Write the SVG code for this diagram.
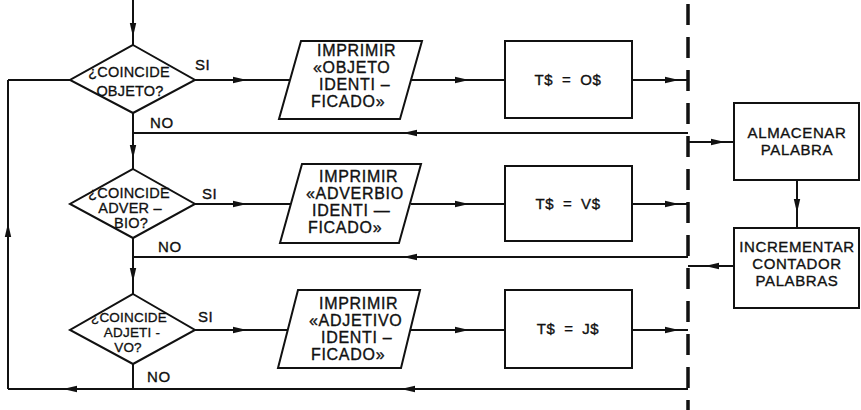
<svg xmlns="http://www.w3.org/2000/svg" width="861" height="410" viewBox="0 0 861 410">
<defs>
<style>
.ln{fill:none;stroke:#111;stroke-width:2}
.sh{fill:#fff;stroke:#111;stroke-width:2}
.t{font-family:"Liberation Sans",Arial,sans-serif;font-size:15px;fill:#111;stroke:#111;stroke-width:0.35;letter-spacing:0.6px}
.p{font-size:16px;letter-spacing:0.7px}
.d{font-family:"Liberation Sans",Arial,sans-serif;font-size:14.5px;fill:#111;stroke:#111;stroke-width:0.3;letter-spacing:0.2px}
.s{font-size:13.5px}
.m{text-anchor:middle}
</style>
<marker id="a" viewBox="0 0 14 8" refX="7" refY="4" markerWidth="14" markerHeight="8" markerUnits="userSpaceOnUse" orient="auto">
<path d="M0,0.8 L14,4 L0,7.2 Z" fill="#111"/>
</marker>
</defs>
<rect width="861" height="410" fill="#fff"/>
<g id="connectors">
<line x1="688" y1="0" x2="688" y2="410" stroke="#111" stroke-width="3.5" stroke-dasharray="21 12" stroke-dashoffset="-4"/>
<path class="ln" d="M133,0 L133,30 L133,45" marker-mid="url(#a)"/>
<path class="ln" d="M195,80 L240,80 L291,80" marker-mid="url(#a)"/>
<path class="ln" d="M411,80 L462,80 L505,80" marker-mid="url(#a)"/>
<path class="ln" d="M632,80 L672,80 L688,80" marker-mid="url(#a)"/>
<path class="ln" d="M688,133 L410,133 L133,133" marker-mid="url(#a)"/>
<path class="ln" d="M133,113 L133,152 L133,169" marker-mid="url(#a)"/>
<path class="ln" d="M8,389 L8,230 L8,80" marker-mid="url(#a)"/>
<path class="ln" d="M8,80 L70,80"/>
<path class="ln" d="M195,204 L240,204 L291,204" marker-mid="url(#a)"/>
<path class="ln" d="M411,204 L462,204 L505,204" marker-mid="url(#a)"/>
<path class="ln" d="M632,204 L672,204 L688,204" marker-mid="url(#a)"/>
<path class="ln" d="M688,257 L410,257 L133,257" marker-mid="url(#a)"/>
<path class="ln" d="M133,238 L133,275 L133,294" marker-mid="url(#a)"/>
<path class="ln" d="M195,330 L240,330 L288,330" marker-mid="url(#a)"/>
<path class="ln" d="M410,330 L462,330 L505,330" marker-mid="url(#a)"/>
<path class="ln" d="M632,330 L672,330 L688,330" marker-mid="url(#a)"/>
<path class="ln" d="M688,389 L408,389 L70,389 L8,389" marker-mid="url(#a)"/>
<path class="ln" d="M133,364 L133,389"/>
<path class="ln" d="M688,142 L718,142 L734,142" marker-mid="url(#a)"/>
<path class="ln" d="M734,266 L712,266 L688,266" marker-mid="url(#a)"/>
<path class="ln" d="M797,180 L797,206 L797,228" marker-mid="url(#a)"/>
<text class="t" x="195" y="70">SI</text>
<text class="t" x="150" y="128">NO</text>
<text class="t" x="202" y="199">SI</text>
<text class="t" x="158" y="252">NO</text>
<text class="t" x="198" y="322">SI</text>
<text class="t" x="147" y="382">NO</text>
</g>
<g id="d1">
<polygon class="sh" points="133,45 195,80 133,113 70,80"/>
<text class="d m" x="129" y="77">¿COINCIDE</text>
<text class="d m" x="130" y="96">OBJETO?</text>
</g>
<g id="p1">
<polygon class="sh" points="301,41 422,41 400,119 279,119"/>
<text class="t p" x="317" y="56">IMPRIMIR</text>
<text class="t p" x="313" y="73">«OBJETO</text>
<text class="t p" x="319" y="90">IDENTI –</text>
<text class="t p" x="311" y="107">FICADO»</text>
</g>
<g id="b1">
<rect class="sh" x="505" y="41" width="127" height="77"/>
<text class="t m" x="568" y="85" word-spacing="4">T$ = O$</text>
</g>
<g id="d2">
<polygon class="sh" points="133,169 195,204 133,238 70,204"/>
<text class="d m" x="129" y="198">¿COINCIDE</text>
<text class="d m" x="130" y="213">ADVER –</text>
<text class="d m" x="131" y="228">BIO?</text>
</g>
<g id="p2">
<polygon class="sh" points="302,164 421,164 399,243 280,243"/>
<text class="t p" x="319" y="182">IMPRIMIR</text>
<text class="t p" x="306" y="199">«ADVERBIO</text>
<text class="t p" x="312" y="216">IDENTI —</text>
<text class="t p" x="308" y="233">FICADO»</text>
</g>
<g id="b2">
<rect class="sh" x="505" y="166" width="127" height="75"/>
<text class="t m" x="568" y="209" word-spacing="4">T$ = V$</text>
</g>
<g id="d3">
<polygon class="sh" points="133,294 195,330 133,364 70,330"/>
<text class="d s m" x="129" y="322">¿COINCIDE</text>
<text class="d s m" x="132" y="337">ADJETI -</text>
<text class="d s m" x="128" y="352">VO?</text>
</g>
<g id="p3">
<polygon class="sh" points="298,290 420,290 401,368 278,368"/>
<text class="t p" x="319" y="309">IMPRIMIR</text>
<text class="t p" x="309" y="326">«ADJETIVO</text>
<text class="t p" x="321" y="343">IDENTI –</text>
<text class="t p" x="311" y="360">FICADO»</text>
</g>
<g id="b3">
<rect class="sh" x="505" y="290" width="127" height="78"/>
<text class="t m" x="568" y="334" word-spacing="4">T$ = J$</text>
</g>
<g id="almacenar">
<rect class="sh" x="734" y="103" width="125" height="77"/>
<text class="t m" x="797" y="138">ALMACENAR</text>
<text class="t m" x="797" y="155">PALABRA</text>
</g>
<g id="incrementar">
<rect class="sh" x="734" y="228" width="125" height="80"/>
<text class="t m" x="797" y="252">INCREMENTAR</text>
<text class="t m" x="797" y="269">CONTADOR</text>
<text class="t m" x="797" y="286">PALABRAS</text>
</g>
</svg>
